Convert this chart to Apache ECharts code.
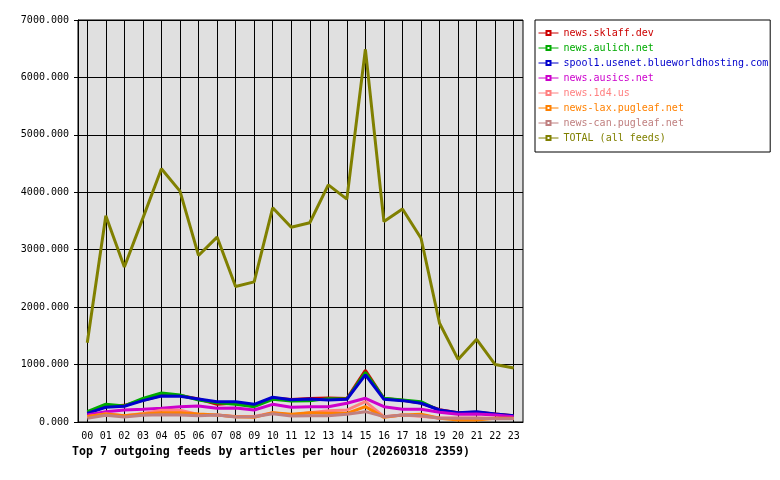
<!DOCTYPE html>
<html>
<head>
<meta charset="utf-8">
<title>Top 7 outgoing feeds</title>
<script src="https://cdn.jsdelivr.net/npm/echarts@6/dist/echarts.min.js"></script>
<style>
  html, body { margin: 0; padding: 0; background: #ffffff; }
  #chart { width: 780px; height: 480px; }
</style>
</head>
<body>
<div id="chart"></div>
<script>
// hours of the day
var hours = ['00','01','02','03','04','05','06','07','08','09','10','11',
             '12','13','14','15','16','17','18','19','20','21','22','23'];

// articles per hour, one array per feed
var sklaff   = [160, 270, 290, 380, 460, 460, 400, 310, 330, 280, 420, 390, 410, 420, 410, 900, 410, 380, 330, 215, 160, 170, 140, 110];
var aulich   = [180, 310, 280, 410, 505, 470, 384, 337, 308, 267, 396, 366, 372, 407, 400, 866, 413, 384, 354, 200, 150, 165, 130, 100];
var spool1   = [150, 256, 274, 372, 453, 448, 401, 354, 354, 308, 431, 389, 401, 384, 396, 820, 396, 372, 326, 209, 163, 180, 140, 110];
var ausics   = [122, 180, 209, 221, 238, 267, 279, 238, 244, 209, 308, 256, 267, 267, 326, 413, 267, 221, 221, 169, 134, 140, 122, 93];
var n1d4     = [93, 145, 110, 150, 204, 204, 130, 120, 95, 95, 160, 120, 163, 198, 209, 355, 93, 122, 100, 70, 70, 70, 65, 60];
var lax      = [97, 140, 110, 140, 163, 163, 140, 122, 93, 81, 163, 134, 163, 151, 151, 267, 81, 122, 134, 64, 35, 35, 64, 64];
var can      = [64, 116, 87, 116, 128, 122, 110, 122, 87, 93, 145, 105, 110, 110, 134, 180, 93, 122, 110, 64, 64, 64, 58, 58];
var total    = [1380, 3590, 2700, 3550, 4410, 4020, 2900, 3220, 2360, 2440, 3730, 3390, 3470, 4130, 3880, 6490, 3490, 3710, 3200, 1720, 1090, 1440, 1000, 940];

var feedNames = ['news.sklaff.dev', 'news.aulich.net', 'spool1.usenet.blueworldhosting.com',
                 'news.ausics.net', 'news.1d4.us', 'news-lax.pugleaf.net',
                 'news-can.pugleaf.net', 'TOTAL (all feeds)'];
var feedData = [sklaff, aulich, spool1, ausics, n1d4, lax, can, total];
var feedColors = ['#cc0000', '#00aa00', '#0000cc', '#cc00cc', '#ff8080', '#ff8000', '#c08080', '#808000'];

var mono = 'DejaVu Sans Mono';

var series = [];
var legendData = [];
for (var i = 0; i < feedNames.length; i++) {
    series.push({
        name: feedNames[i],
        type: 'line',
        data: feedData[i],
        symbol: 'emptyRect',
        symbolSize: 4,
        showSymbol: false,
        animation: false,
        silent: true,
        color: feedColors[i],
        lineStyle: { width: 3, color: feedColors[i] }
    });
    legendData.push({ name: feedNames[i], textStyle: { color: feedColors[i] } });
}

var myChart = echarts.init(document.getElementById('chart'));
myChart.setOption({
    backgroundColor: '#ffffff',
    animation: false,
    title: {
        text: 'Top 7 outgoing feeds by articles per hour (20260318 2359)',
        left: 72,
        top: 446,
        padding: 0,
        textStyle: { fontFamily: mono, fontSize: 11.6, fontWeight: 'bold', color: '#000000' }
    },
    legend: {
        orient: 'vertical',
        left: 535,
        top: 20,
        data: legendData,
        itemWidth: 20,
        itemHeight: 5,
        itemGap: 5,
        padding: [8, 2, 9, 3],
        backgroundColor: '#ffffff',
        borderColor: '#000000',
        borderWidth: 1,
        borderRadius: 0,
        selectedMode: false,
        lineStyle: { width: 1 },
        textStyle: { fontFamily: mono, fontSize: 10 }
    },
    grid: {
        left: 78,
        right: 257,
        top: 20,
        bottom: 58,
        show: true,
        backgroundColor: '#e0e0e0',
        borderColor: '#000000',
        borderWidth: 1
    },
    xAxis: {
        type: 'category',
        data: hours,
        boundaryGap: true,
        axisLine: { lineStyle: { color: '#000000', width: 1 } },
        axisTick: { alignWithLabel: true, length: 4, lineStyle: { color: '#000000' } },
        axisLabel: { margin: 9, color: '#000000', fontFamily: mono, fontSize: 10 },
        splitLine: { show: true, alignWithLabel: true, lineStyle: { color: '#000000', width: 1 } }
    },
    yAxis: {
        type: 'value',
        min: 0,
        max: 7000,
        interval: 1000,
        axisLine: { show: true, lineStyle: { color: '#000000' } },
        axisTick: { show: true, length: 4, lineStyle: { color: '#000000' } },
        axisLabel: {
            margin: 9,
            color: '#000000',
            fontFamily: mono,
            fontSize: 10,
            formatter: function (v) { return v.toFixed(3); }
        },
        splitLine: { show: true, lineStyle: { color: '#000000', width: 1 } }
    },
    series: series
});
</script>
</body>
</html>
